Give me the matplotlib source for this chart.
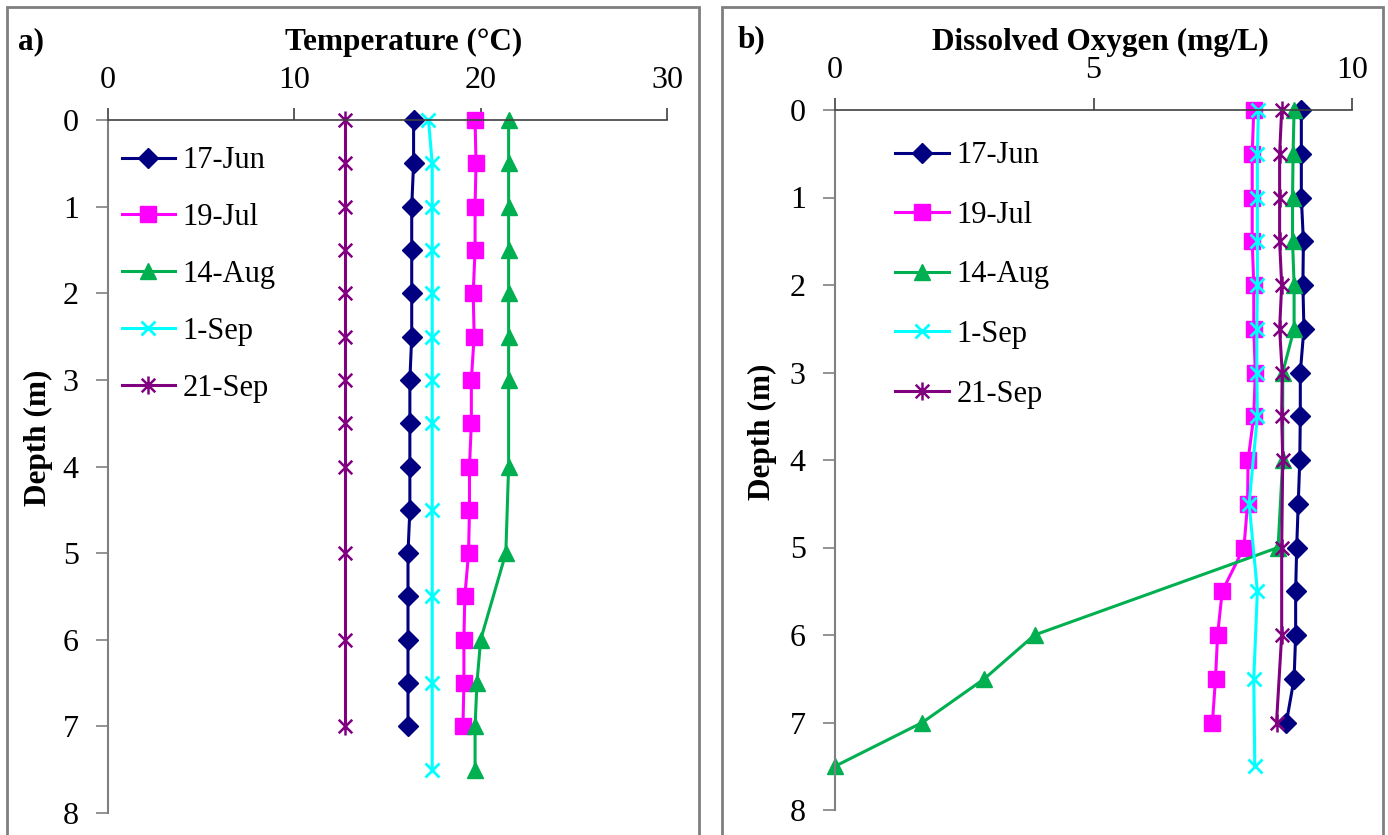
import numpy as np
import matplotlib
matplotlib.use("Agg")
import matplotlib.pyplot as plt
from matplotlib.path import Path
from matplotlib.patches import Rectangle

plt.rcParams['font.family'] = ['Liberation Serif', 'DejaVu Serif']

# depth (m) of each profile
jun_depth = [0, 0.5, 1, 1.5, 2, 2.5, 3, 3.5, 4, 4.5, 5, 5.5, 6, 6.5, 7]
jul_depth = [0, 0.5, 1, 1.5, 2, 2.5, 3, 3.5, 4, 4.5, 5, 5.5, 6, 6.5, 7]
aug_depth = [0, 0.5, 1, 1.5, 2, 2.5, 3, 4, 5, 6, 6.5, 7, 7.5]
sep1_depth = [0, 0.5, 1, 1.5, 2, 2.5, 3, 3.5, 4.5, 5.5, 6.5, 7.5]
sep21_depth = [0, 0.5, 1, 1.5, 2, 2.5, 3, 3.5, 4, 5, 6, 7]

# temperature (C)
jun_t = [16.4, 16.4, 16.3, 16.3, 16.3, 16.3, 16.2, 16.2, 16.2, 16.2, 16.1, 16.1, 16.1, 16.1, 16.1]
jul_t = [19.7, 19.75, 19.7, 19.7, 19.6, 19.65, 19.5, 19.5, 19.4, 19.4, 19.35, 19.15, 19.1, 19.1, 19.05]
aug_t = [21.5, 21.5, 21.5, 21.5, 21.5, 21.5, 21.5, 21.5, 21.35, 20.0, 19.8, 19.7, 19.7]
sep1_t = [17.2, 17.4, 17.4, 17.4, 17.4, 17.4, 17.4, 17.4, 17.4, 17.4, 17.4, 17.4]
sep21_t = [12.7, 12.7, 12.7, 12.7, 12.7, 12.7, 12.7, 12.7, 12.7, 12.7, 12.7, 12.7]

# dissolved oxygen (mg/L)
jun_do = [9.02, 9.02, 9.02, 9.06, 9.05, 9.07, 9.0, 9.0, 8.99, 8.96, 8.93, 8.91, 8.91, 8.88, 8.73]
jul_do = [8.1, 8.07, 8.07, 8.07, 8.1, 8.1, 8.13, 8.1, 7.99, 7.98, 7.91, 7.49, 7.40, 7.36, 7.30]
aug_do = [8.88, 8.86, 8.85, 8.85, 8.88, 8.88, 8.66, 8.66, 8.57, 3.86, 2.89, 1.69, 0.0]
sep1_do = [8.19, 8.17, 8.17, 8.17, 8.17, 8.16, 8.16, 8.17, 8.01, 8.17, 8.10, 8.12]
sep21_do = [8.64, 8.6, 8.6, 8.6, 8.64, 8.6, 8.65, 8.64, 8.66, 8.64, 8.64, 8.54]

labels = ['17-Jun', '19-Jul', '14-Aug', '1-Sep', '21-Sep']
depths = [jun_depth, jul_depth, aug_depth, sep1_depth, sep21_depth]
temps = [jun_t, jul_t, aug_t, sep1_t, sep21_t]
oxygen = [jun_do, jul_do, aug_do, sep1_do, sep21_do]

# excel style star marker (x with vertical bar)
star = Path([(0, -1), (0, 1), (-0.75, -0.75), (0.75, 0.75), (-0.75, 0.75), (0.75, -0.75)],
            [Path.MOVETO, Path.LINETO, Path.MOVETO, Path.LINETO, Path.MOVETO, Path.LINETO])

styles = [
    dict(color='#000080', marker='D', ms=10),
    dict(color='#FF00FF', marker='s', ms=11),
    dict(color='#00B050', marker='^', ms=12),
    dict(color='#00FFFF', marker='x', ms=10.5, mew=2),
    dict(color='#800080', marker=star, ms=13, mew=1.8, mfc='none'),
]

W, H = 1388, 835
fig = plt.figure(figsize=(W / 100, H / 100), dpi=100)


def fx(px):
    return px / W


def fy(py):
    return 1 - py / H


# panel frames
fig.patches.append(Rectangle((fx(7), fy(860)), fx(699) - fx(7), fy(7) - fy(860),
                             transform=fig.transFigure, fill=False, ec='#7f7f7f', lw=2))
fig.patches.append(Rectangle((fx(722), fy(860)), fx(1383) - fx(722), fy(7) - fy(860),
                             transform=fig.transFigure, fill=False, ec='#7f7f7f', lw=2))


def setup(ax, xmax, xstep):
    ax.set_xlim(0, xmax)
    ax.set_ylim(8, 0)
    ax.set_xticks(np.arange(0, xmax + 0.01, xstep))
    ax.set_yticks(range(0, 9))
    ax.xaxis.tick_top()
    ax.spines['bottom'].set_visible(False)
    ax.spines['right'].set_visible(False)
    ax.spines['top'].set_color('#404040')
    ax.spines['left'].set_color('#808080')
    ax.spines['top'].set_linewidth(1.2)
    ax.spines['left'].set_linewidth(1.5)
    ax.tick_params(axis='x', direction='out', length=9, width=1.2, color='#404040',
                   labelsize=23, pad=9)
    ax.tick_params(axis='y', direction='out', length=9, width=1.2, color='#808080',
                   labelsize=23, pad=12)


def draw(ax, values):
    for d, v, lab, st in zip(depths, values, labels, styles):
        ax.plot(v, d, lw=2.2, label=lab, clip_on=False, **st)


ax1 = fig.add_axes([fx(108), fy(813), fx(667) - fx(108), fy(120) - fy(813)])
setup(ax1, 30, 10)
draw(ax1, temps)
ax1.legend(loc='upper left', bbox_to_anchor=(-0.003, 0.984),
           frameon=False, fontsize=22, handlelength=1.75, labelspacing=0.91,
           handletextpad=0.25, borderaxespad=0.2, borderpad=0.3)

ax2 = fig.add_axes([fx(835), fy(810), fx(1352) - fx(835), fy(110) - fy(810)])
setup(ax2, 10, 5)
draw(ax2, oxygen)
ax2.legend(loc='upper left', bbox_to_anchor=(0.087, 0.977),
           frameon=False, fontsize=22, handlelength=1.75, labelspacing=1.0,
           handletextpad=0.25, borderaxespad=0.2, borderpad=0.3)

# titles, labels
tsize = 22.5
fig.text(fx(404), fy(42), 'Temperature (°C)', ha='center', va='center', fontsize=tsize, fontweight='bold')
fig.text(fx(1100), fy(42), 'Dissolved Oxygen (mg/L)', ha='center', va='center', fontsize=tsize, fontweight='bold')
fig.text(fx(18), fy(42), 'a)', ha='left', va='center', fontsize=tsize, fontweight='bold')
fig.text(fx(738), fy(40), 'b)', ha='left', va='center', fontsize=tsize, fontweight='bold')
fig.text(fx(38), fy(438), 'Depth (m)', ha='center', va='center', rotation=90, fontsize=tsize, fontweight='bold')
fig.text(fx(762), fy(432), 'Depth (m)', ha='center', va='center', rotation=90, fontsize=tsize, fontweight='bold')

fig.savefig('out.png', dpi=100)
